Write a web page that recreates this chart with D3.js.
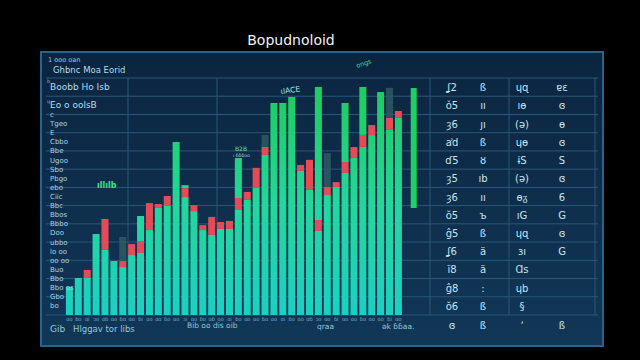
<!DOCTYPE html>
<html><head><meta charset="utf-8">
<script src="https://cdn.jsdelivr.net/npm/d3@7"></script>
<style>html,body{margin:0;padding:0;background:#000;}svg{display:block;}</style>
</head><body>
<svg id="c" width="640" height="360"></svg>
<script>
// ---- data ----
const title = "Bopudnoloid";
const categories = ["ɑo","ɓo","ɑi","ɔo","ɑɓ","ɑo","ɓɑ","ɑo","ɓi","ɑo","ɑɑ","ɓo","ɑo","ɔi","ɑo","ɓo","ɑɓ","ɑo","ɑi","ɓo","ɑo","ɑo","ɓɑ","ɑo","ɑi","ɓo","ɑo","ɑɓ","ɔo","ɑo","ɓi","ɑo","ɑo","ɓo","ɑɑ","ɑo","ɓi","ɑo"];
const floatCategory = "ɩ";
const baseVals  = [15.4,20.3,20.3,44.4,35.7,29.6,26.3,32.9,34.0,46.6,58.7,59.8,68.6,64.7,57.0,46.6,43.9,47.2,47.2,57.6,63.1,69.7,87.8,116.3,116.3,119.6,79.0,68.6,46.1,65.8,70.2,77.9,86.1,92.2,98.7,104.2,101.5,108.1];
const redVals   = [0,0,4.4,0,17.0,0,3.3,6.0,6.6,14.8,2.2,5.5,0,4.9,3.3,2.7,9.9,3.8,4.4,6.6,4.4,11.0,4.4,0,0,0,3.3,16.5,6.0,4.4,2.7,6.0,6.0,6.6,5.5,0,6.6,3.8];
const upperVals = [0,0,0,0,0,0,0,0,13.7,0,0,0,26.3,1.6,0,0,0,0,0,21.9,0,0,0,0,0,0,0,0,73.0,0,0,32.4,0,26.3,0,18.1,0,0];
const ghostVals = [0,0,0,0,0,0,13.2,0,0,0,0,0,0,0,0,0,0,0,0,0,0,0,6.6,0,0,0,0,0,0,18.6,0,0,0,0,0,0,16.5,0];
const floatRange = [58.7,124.5];
const yTicks = d3.range(0,131,10);
const rowLabels = ["c","Tgeo","E","Cbbo","Bbe","Ugoo","Sbo","Pbgo","ebo","Ciic","Bbc","Bbos","Bbbo","Doo","ubbo","lo oo","oo oo","Buo","Bbo","Bbo os","Gbo","bo"];
const rowLabelVals = d3.range(110,4,-5);
const bigLabels = ["Boobb Ho Isb","Eo o oolsB"];
const bigLabelVals = [125,115];
const tableCol1 = ["ʆ2","ǒ5","ȝ6","ẚd","ɗ5","ȝ5","ȝ6","ŏ5","ĝ5","ʆ6","ĩ8","ĝ8","ŏ6","ɞ"];
const tableCol2 = ["ß","ıı","ȷı","ß","ȣ","ıb","ıı","ъ","ß","ä","ä",":","ß","ß"];
const tableCol3 = ["ɥɋ","ıɵ","(ə)","ɥɵ","ɨS","(ə)","ɵᵹ","ıG","ɥɋ","ɜı","Ɑs","ɥb","§","ʼ"];
const tableCol4 = ["ɐɛ","ɞ","ɵ","ɞ","S","ɞ","6","G","ɞ","G","","","","ß"];
const tableRowVals = d3.range(125,0,-10);

const svg = d3.select("#c");
const defs = svg.append("defs");
const pg = defs.append("linearGradient").attr("id","panelG").attr("x1",0).attr("y1",0).attr("x2",0).attr("y2",1);
pg.append("stop").attr("offset",0).attr("stop-color","#0b2540");
pg.append("stop").attr("offset",1).attr("stop-color","#113757");

// panel
svg.append("rect").attr("x",41).attr("y",52).attr("width",562).attr("height",294)
  .attr("fill","url(#panelG)").attr("stroke","#2d6389").attr("stroke-width",2);

const y = d3.scaleLinear().domain([0,130]).range([315,78]);
const allCats = categories.concat(["", floatCategory]);
const x = d3.scaleBand().domain(d3.range(allCats.length)).range([65,420.6]).paddingInner(0.21).paddingOuter(0.1);

const bg = defs.append("linearGradient").attr("id","barG").attr("gradientUnits","userSpaceOnUse")
  .attr("x1",0).attr("x2",0).attr("y1",y(0)).attr("y2",y(120));
bg.append("stop").attr("offset",0).attr("stop-color","#1bd0c4");
bg.append("stop").attr("offset",0.5).attr("stop-color","#24d69a");
bg.append("stop").attr("offset",1).attr("stop-color","#1fcc62");

// grid
svg.append("g").selectAll("line").data(yTicks).join("line")
  .attr("x1",46).attr("x2",598).attr("y1",d=>y(d)).attr("y2",d=>y(d))
  .attr("stroke","#2a5779").attr("stroke-width",1);
const vLines = [128,217,430,509,595];
svg.append("g").selectAll("line").data(vLines).join("line")
  .attr("x1",d=>d).attr("x2",d=>d).attr("y1",y(130)).attr("y2",y(0))
  .attr("stroke","#2a5779").attr("stroke-width",1);

// stacked bars
const table = categories.map((c,i)=>({i, base:baseVals[i], red:redVals[i], upper:upperVals[i], ghost:ghostVals[i]}));
const keys = ["base","red","upper","ghost"];
const fills = {base:"url(#barG)", red:"#e44b57", upper:"url(#barG)", ghost:"#2f5a66"};
const series = d3.stack().keys(keys)(table);
svg.append("g").selectAll("g").data(series).join("g")
  .attr("fill",d=>fills[d.key]).attr("opacity",d=>d.key==="ghost"?0.85:1)
  .selectAll("rect").data(d=>d.filter(s=>s[1]-s[0]>0)).join("rect")
  .attr("x",d=>x(d.data.i)).attr("width",x.bandwidth())
  .attr("y",d=>y(d[1])).attr("height",d=>y(d[0])-y(d[1]));

// floating bar
svg.append("rect").attr("x",x(allCats.length-1)-2).attr("width",x.bandwidth()-1)
  .attr("y",y(floatRange[1])).attr("height",y(floatRange[0])-y(floatRange[1]))
  .attr("fill","#1fcf66");

// tiny x axis labels
const xa = svg.append("g").attr("transform",`translate(0,${y(0)})`)
  .call(d3.axisBottom(x).tickValues(d3.range(categories.length)).tickFormat(i=>categories[i]).tickSize(0).tickPadding(2));
xa.select(".domain").remove();
xa.selectAll("text").attr("fill","#7fb7cf").attr("font-size",5).attr("font-family","DejaVu Sans");

// left labels
svg.append("g").selectAll("text").data(rowLabels).join("text")
  .attr("x",50).attr("y",(d,i)=>y(rowLabelVals[i])+2.5).text(d=>d)
  .attr("fill","#a9d3e4").attr("font-size",7).attr("font-family","DejaVu Sans");
svg.append("g").selectAll("text").data(bigLabels).join("text")
  .attr("x",50).attr("y",(d,i)=>y(bigLabelVals[i])+3).text(d=>d)
  .attr("fill","#b6dceb").attr("font-size",9).attr("font-family","DejaVu Sans");
svg.append("text").attr("x",47).attr("y",y(127)).text("b").attr("fill","#8fbfd3").attr("font-size",5).attr("font-family","DejaVu Sans");
svg.append("text").attr("x",47).attr("y",y(117)+1).text("ɥ").attr("fill","#8fbfd3").attr("font-size",5).attr("font-family","DejaVu Sans");

// header
svg.append("text").attr("x",291).attr("y",45).attr("text-anchor","middle").text(title)
  .attr("fill","#f2f2f2").attr("font-size",14).attr("font-family","DejaVu Sans");
svg.append("text").attr("x",48).attr("y",62).text("1 ooo oan").attr("fill","#9cc8dc").attr("font-size",6.5).attr("font-family","DejaVu Sans");
svg.append("text").attr("x",53).attr("y",73).text("Ghbnc Moa Eorid").attr("fill","#b8dcea").attr("font-size",8.5).attr("font-family","DejaVu Sans");
svg.append("text").attr("transform","translate(357,68) rotate(-18)").text("ongs").attr("fill","#3bd88a").attr("font-size",6.5).attr("font-family","DejaVu Sans");

// in-plot annotations
svg.append("text").attr("x",97).attr("y",188).text("ıllılb").attr("fill","#3ee08a").attr("font-size",8).attr("font-weight","bold").attr("font-family","DejaVu Sans");
svg.append("text").attr("transform","translate(281,94) rotate(-8)").text("ɩlACE").attr("fill","#9fe6e6").attr("font-size",7.5).attr("font-family","DejaVu Sans");
svg.append("text").attr("x",235).attr("y",151).text("B2B").attr("fill","#5fe0a0").attr("font-size",6).attr("font-family","DejaVu Sans");
svg.append("text").attr("x",233).attr("y",157).text("ı ɓɓɓoo").attr("fill","#a9d3e4").attr("font-size",4.5).attr("font-family","DejaVu Sans");

// table
const cols = [[tableCol1,452],[tableCol2,483],[tableCol3,522],[tableCol4,562]];
cols.forEach(([arr,cx])=>{
  svg.append("g").selectAll("text").data(arr).join("text")
    .attr("x",cx).attr("y",(d,i)=> i<tableRowVals.length ? y(tableRowVals[i])+4 : 329)
    .attr("text-anchor","middle").text(d=>d)
    .attr("fill","#c6e4f1").attr("font-size",10).attr("font-family","DejaVu Sans");
});

// bottom labels
const bottom = [["Gib",50,332,9],["Hlggav tor libs",73,332,8.5],["Bib oo dis oib",187,328,7.5],["qraa",317,329,7.5],["ǝk ɓɓaa.",382,329,7.5]];
svg.append("g").selectAll("text").data(bottom).join("text")
  .attr("x",d=>d[1]).attr("y",d=>d[2]).text(d=>d[0])
  .attr("fill","#93c6dc").attr("font-size",d=>d[3]).attr("font-family","DejaVu Sans");
</script>
</body></html>
